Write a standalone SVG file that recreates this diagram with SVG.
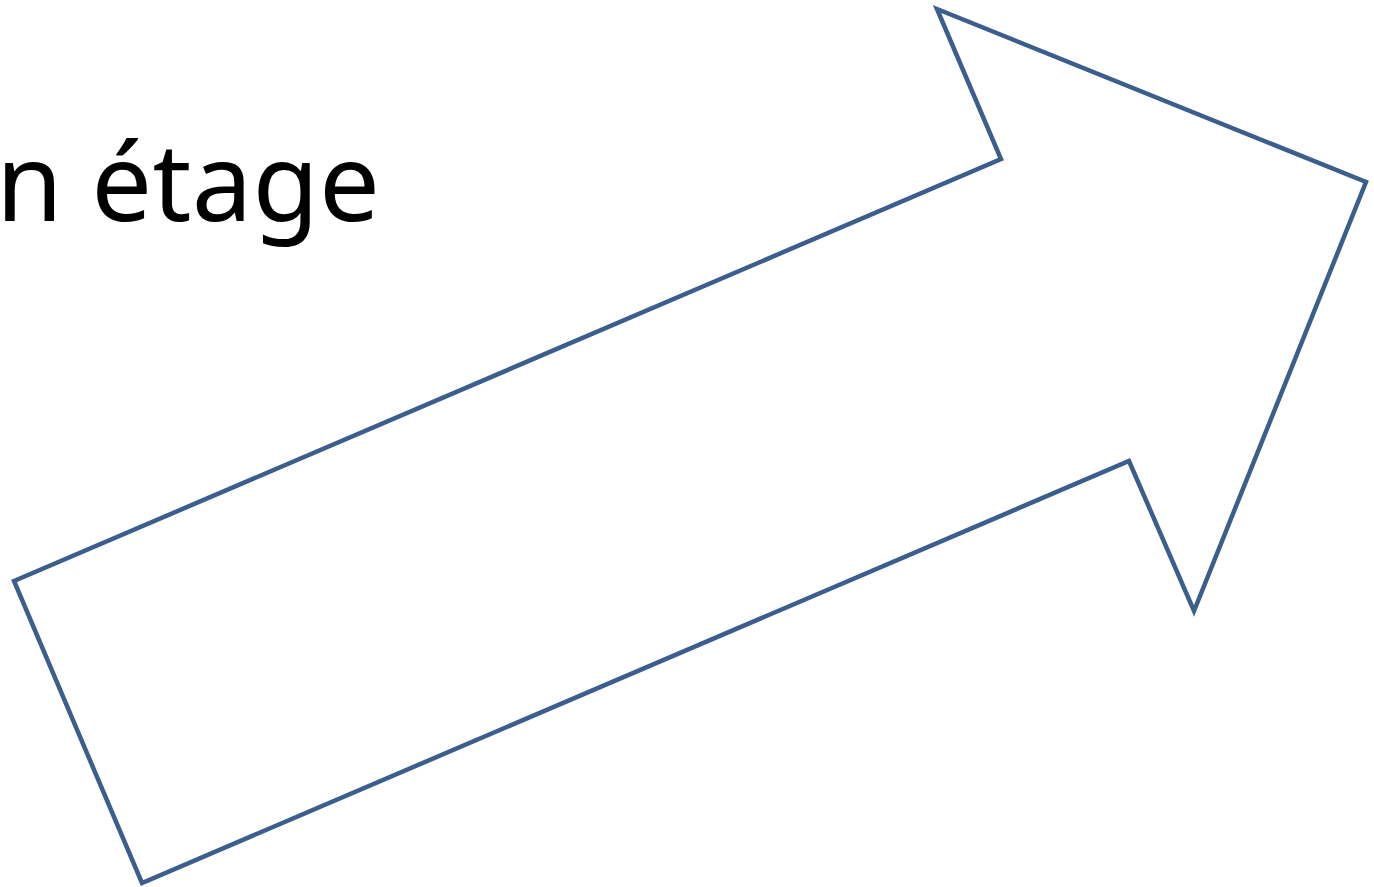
<svg xmlns="http://www.w3.org/2000/svg" width="1374" height="887" viewBox="0 0 1374 887">
<style>
.lbl{font-family:"Noto Sans","Open Sans",sans-serif;font-size:108px;fill:#000}
.arr{fill:#fff;stroke:#3b5e8c;stroke-width:4.5;stroke-linejoin:miter}
</style>
<rect width="1374" height="887" fill="#fff"/>
<g id="label"><text class="lbl" x="-4" y="221" textLength="384" lengthAdjust="spacing">n étage</text></g>
<g id="arrow"><polygon class="arr" points="14,581 1001,159 937,9 1366,182 1194,611 1129,461 142,883"/></g>
</svg>
